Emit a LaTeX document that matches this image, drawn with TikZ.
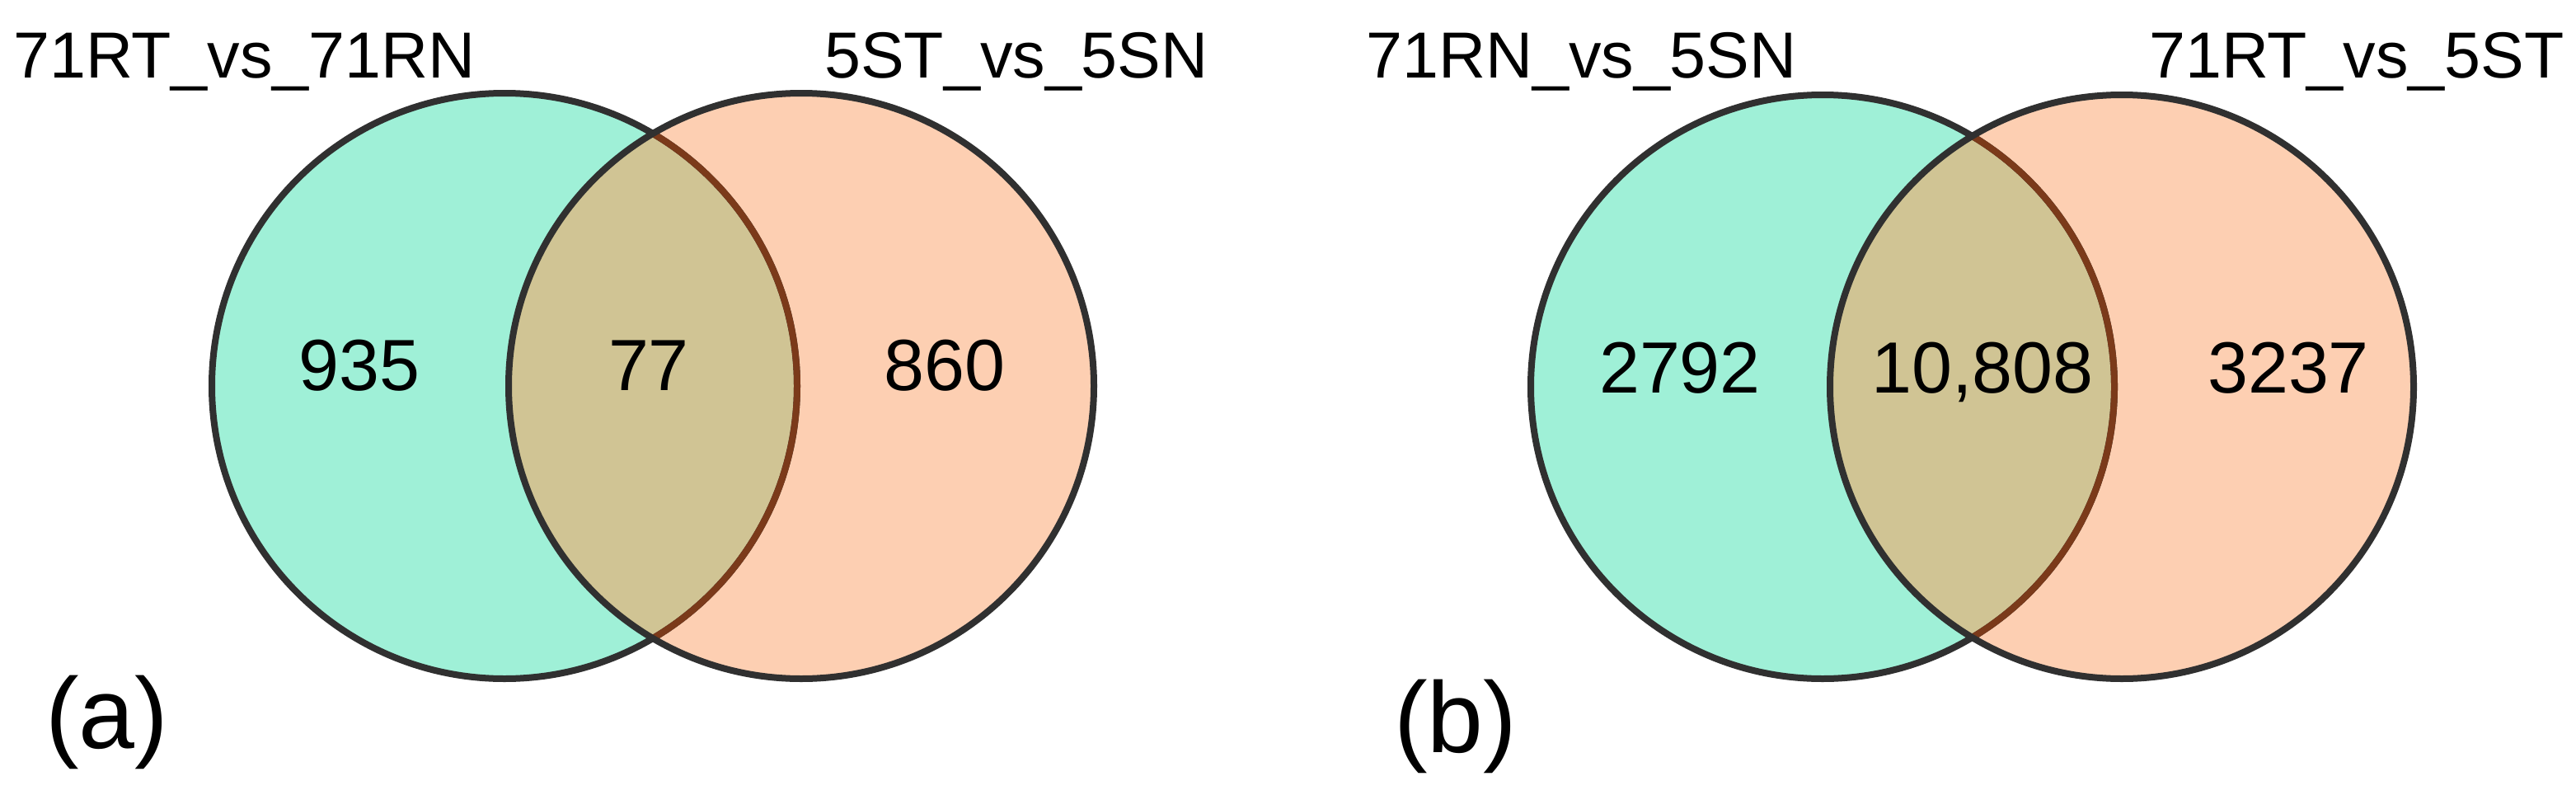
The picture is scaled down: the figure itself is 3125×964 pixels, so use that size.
\documentclass[tikz,border=0pt]{standalone}
\usepackage{fontspec}
\setmainfont{Liberation Sans}
\definecolor{vteal}{RGB}{159,240,215}
\definecolor{vpeach}{RGB}{253,207,178}
\definecolor{vmix}{RGB}{208,196,148}
\definecolor{vline}{RGB}{48,48,48}
\definecolor{vbrown}{RGB}{123,58,26}
\begin{document}
\begin{tikzpicture}[x=1pt,y=-1pt,
  setlabel/.style={anchor=base west,inner sep=0pt,font=\fontsize{79}{79}\selectfont},
  count/.style={anchor=base,inner sep=0pt,font=\fontsize{88}{88}\selectfont},
  panel/.style={anchor=base west,inner sep=0pt,font=\fontsize{122}{122}\selectfont},
  outline/.style={draw=vline,line width=8pt},
  inner/.style={draw=vbrown,line width=8pt},
]
\useasboundingbox[fill=white] (0,0) rectangle (3125,964);

% ---------- panel (a) ----------
\coordinate (aL) at (612,468);
\coordinate (aR) at (972,468);
\fill[vteal] (aL) circle (355pt);
\fill[vpeach] (aR) circle (355pt);
\begin{scope}
  \clip (aL) circle (355pt);
  \fill[vmix] (aR) circle (355pt);
\end{scope}
\draw[outline] (aL) circle (355pt);
\begin{scope}
  \clip (aR) circle (355pt);
  \draw[inner] (aL) circle (355pt);
\end{scope}
\draw[outline] (aR) circle (355pt);

\node[setlabel] (aLlab) at (16,94) {71RT\_vs\_71RN};
\node[setlabel] (aRlab) at (1000,94) {5ST\_vs\_5SN};
\node[count] (aN1) at (436,473) {935};
\node[count] (aN2) at (787,473) {77};
\node[count] (aN3) at (1146,473) {860};
\node[panel] (aP) at (55,907) {(a)};

% ---------- panel (b) ----------
\coordinate (bL) at (2211,469);
\coordinate (bR) at (2574,469);
\fill[vteal] (bL) circle (354pt);
\fill[vpeach] (bR) circle (354pt);
\begin{scope}
  \clip (bL) circle (354pt);
  \fill[vmix] (bR) circle (354pt);
\end{scope}
\draw[outline] (bL) circle (354pt);
\begin{scope}
  \clip (bR) circle (354pt);
  \draw[inner] (bL) circle (354pt);
\end{scope}
\draw[outline] (bR) circle (354pt);

\node[setlabel] (bLlab) at (1657,94) {71RN\_vs\_5SN};
\node[setlabel] (bRlab) at (2607,94) {71RT\_vs\_5ST};
\node[count] (bN1) at (2038,476) {2792};
\node[count] (bN2) at (2405,476) {10,808};
\node[count] (bN3) at (2776,476) {3237};
\node[panel] (bP) at (1691,912) {(b)};
\end{tikzpicture}
\end{document}
